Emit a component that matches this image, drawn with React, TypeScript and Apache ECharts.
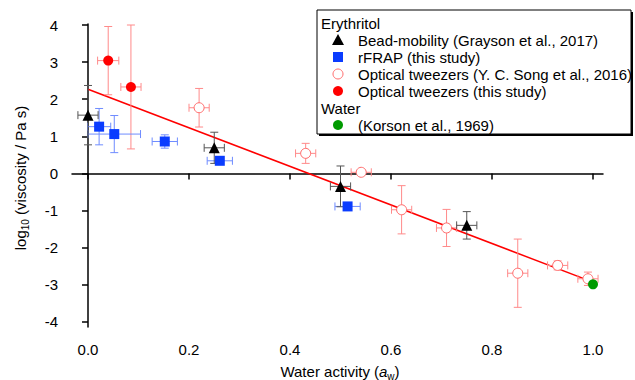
import React, { useEffect, useRef } from "react";
import * as echarts from "echarts";

const FONT = '"Liberation Sans", Arial, sans-serif';

// Bead-mobility (Grayson et al., 2017)
const beadX = [0.0, 0.25, 0.5, 0.75];
const beadY = [1.57, 0.69, -0.35, -1.4];
const beadXErr = [0.02, 0.02, 0.02, 0.02];
const beadYErr = [0.8, 0.42, 0.55, 0.37];

// rFRAP (this study)
const frapX = [0.022, 0.052, 0.152, 0.261, 0.514];
const frapY = [1.26, 1.06, 0.86, 0.34, -0.89];
const frapXErr = [0.023, 0.052, 0.025, 0.025, 0.025];
const frapYErr = [0.49, 0.5, 0.18, 0.08, 0.08];

// Optical tweezers (Y. C. Song et al., 2016)
const songX = [0.22, 0.431, 0.541, 0.621, 0.71, 0.851, 0.93, 0.99];
const songY = [1.77, 0.54, 0.03, -0.98, -1.47, -2.69, -2.48, -2.84];
const songXErr = [0.02, 0.02, 0.02, 0.02, 0.02, 0.02, 0.02, 0.02];
const songYErr = [0.52, 0.27, 0.06, 0.65, 0.5, 0.92, 0.12, 0.18];

// Optical tweezers (this study)
const otX = [0.04, 0.085];
const otY = [3.04, 2.33];
const otXErr = [0.021, 0.02];
const otYErr = [0.92, 1.67];

// Water (Korson et al., 1969)
const waterX = [1.0];
const waterY = [-2.99];

// Linear fit
const fitX = [0, 1];
const fitY = [2.27, -2.93];

const xTicks = [0, 0.2, 0.4, 0.6, 0.8, 1.0];
const yTicks = [-4, -3, -2, -1, 0, 1, 2, 3, 4];

const rows = (xs: number[], ys: number[], xe?: number[], ye?: number[]) =>
  xs.map((x, i) => [x, ys[i], xe ? xe[i] : 0, ye ? ye[i] : 0]);

const errSeries = (data: number[][], color: string) => ({
  type: "custom",
  silent: true,
  z: 1,
  data,
  encode: { x: 0, y: 1 },
  renderItem: (params: any, api: any) => {
    const x = api.value(0);
    const y = api.value(1);
    const xe = api.value(2);
    const ye = api.value(3);
    const cap = 4;
    const st = { stroke: color, lineWidth: 1, fill: null };
    const children: any[] = [];
    if (xe > 0) {
      const l = api.coord([x - xe, y]);
      const r = api.coord([x + xe, y]);
      children.push({ type: "line", shape: { x1: l[0], y1: l[1], x2: r[0], y2: r[1] }, style: st });
      children.push({ type: "line", shape: { x1: l[0], y1: l[1] - cap, x2: l[0], y2: l[1] + cap }, style: st });
      children.push({ type: "line", shape: { x1: r[0], y1: r[1] - cap, x2: r[0], y2: r[1] + cap }, style: st });
    }
    if (ye > 0) {
      const t = api.coord([x, y + ye]);
      const b = api.coord([x, y - ye]);
      children.push({ type: "line", shape: { x1: t[0], y1: t[1], x2: b[0], y2: b[1] }, style: st });
      children.push({ type: "line", shape: { x1: t[0] - cap, y1: t[1], x2: t[0] + cap, y2: t[1] }, style: st });
      children.push({ type: "line", shape: { x1: b[0] - cap, y1: b[1], x2: b[0] + cap, y2: b[1] }, style: st });
    }
    return { type: "group", children };
  },
});

const BLUE = "#0a3cff";
const RED = "#ff0000";
const PALE_RED = "#ff8a8a";
const GREEN = "#009a00";

export default function App() {
  const ref = useRef<HTMLDivElement>(null);
  useEffect(() => {
    if (!ref.current) return;
    const chart = echarts.init(ref.current, null, { renderer: "svg" });
    const LX = 317, LY = 10, LW = 314, LH = 124;
    const rowY = [23, 40, 57, 74, 91, 108, 125];
    const mx = 338, tx = 358;
    const legendText = (text: string, x: number, y: number) => ({
      type: "text",
      x,
      y,
      z: 101,
      style: { text, fontSize: 15, fontFamily: FONT, fill: "#000", verticalAlign: "middle", align: "left" },
    });
    chart.setOption({
      animation: false,
      backgroundColor: "#fff",
      grid: { left: 72, right: 32, top: 24, bottom: 53, containLabel: false },
      xAxis: {
        type: "value",
        min: -0.0317,
        max: 1.0198,
        axisLine: { show: true, lineStyle: { color: "#000", width: 1.5 } },
        axisTick: { show: true, inside: false, length: 6, lineStyle: { color: "#000", width: 1.5 }, customValues: xTicks },
        axisLabel: {
          customValues: xTicks,
          margin: 15,
          fontSize: 15,
          fontFamily: FONT,
          color: "#000",
          formatter: (v: number) => v.toFixed(1),
        },
        splitLine: { show: false },
      },
      yAxis: {
        type: "value",
        min: -4.14,
        max: 4.027,
        axisLine: { show: true, lineStyle: { color: "#000", width: 1.5 } },
        axisTick: { show: true, inside: false, length: 6, lineStyle: { color: "#000", width: 1.5 }, customValues: yTicks },
        axisLabel: {
          customValues: yTicks,
          margin: 14,
          fontSize: 15,
          fontFamily: FONT,
          color: "#000",
          formatter: (v: number) => String(Math.round(v)),
        },
        splitLine: { show: false },
      },
      series: [
        {
          type: "line",
          data: fitX.map((x, i) => [x, fitY[i]]),
          showSymbol: false,
          silent: true,
          z: 0,
          lineStyle: { color: RED, width: 1.5 },
        },
        errSeries(rows(otX, otY, otXErr, otYErr), PALE_RED),
        errSeries(rows(songX, songY, songXErr, songYErr), PALE_RED),
        errSeries(rows(frapX, frapY, frapXErr, frapYErr), "#6f8cff"),
        errSeries(rows(beadX, beadY, beadXErr, beadYErr), "#555555"),
        {
          type: "scatter",
          name: "Optical tweezers (Y. C. Song et al., 2016)",
          data: songX.map((x, i) => [x, songY[i]]),
          symbol: "circle",
          symbolSize: 10,
          z: 3,
          itemStyle: { color: "#fff", borderColor: "#ff6a6a", borderWidth: 1, opacity: 1 },
        },
        {
          type: "scatter",
          name: "Optical tweezers (this study)",
          data: otX.map((x, i) => [x, otY[i]]),
          symbol: "circle",
          symbolSize: 10,
          z: 3,
          itemStyle: { color: RED, opacity: 1 },
        },
        {
          type: "scatter",
          name: "rFRAP (this study)",
          data: frapX.map((x, i) => [x, frapY[i]]),
          symbol: "rect",
          symbolSize: 10,
          z: 3,
          itemStyle: { color: BLUE, opacity: 1 },
        },
        {
          type: "scatter",
          name: "Bead-mobility (Grayson et al., 2017)",
          data: beadX.map((x, i) => [x, beadY[i]]),
          symbol: "triangle",
          symbolSize: 11,
          z: 4,
          itemStyle: { color: "#000", opacity: 1 },
        },
        {
          type: "scatter",
          name: "(Korson et al., 1969)",
          data: waterX.map((x, i) => [x, waterY[i]]),
          symbol: "circle",
          symbolSize: 10,
          z: 4,
          itemStyle: { color: GREEN, opacity: 1 },
        },
      ],
      graphic: [
        {
          type: "text",
          x: 20,
          y: 178,
          rotation: Math.PI / 2,
          style: {
            text: "{n|log}{s|10}{n| (viscosity / Pa s)}",
            align: "center",
            verticalAlign: "middle",
            fill: "#000",
            rich: {
              n: { fontSize: 15, fontFamily: FONT, lineHeight: 20, fill: "#000" },
              s: { fontSize: 10, fontFamily: FONT, lineHeight: 20, verticalAlign: "bottom", fill: "#000" },
            },
          },
        },
        {
          type: "text",
          x: 340,
          y: 371,
          style: {
            text: "{n|Water activity (}{i|a}{s|w}{n|)}",
            align: "center",
            verticalAlign: "middle",
            fill: "#000",
            rich: {
              n: { fontSize: 15, fontFamily: FONT, lineHeight: 20, fill: "#000" },
              i: { fontSize: 15, fontFamily: FONT, fontStyle: "italic", lineHeight: 20, fill: "#000" },
              s: { fontSize: 10, fontFamily: FONT, lineHeight: 20, verticalAlign: "bottom", fill: "#000" },
            },
          },
        },
        { type: "rect", z: 99, shape: { x: LX + 2, y: LY + 2, width: LW, height: LH }, style: { fill: "#000" } },
        { type: "rect", z: 100, shape: { x: LX, y: LY, width: LW, height: LH }, style: { fill: "#fff", stroke: "#000", lineWidth: 1 } },
        legendText("Erythritol", 321, rowY[0]),
        { type: "polygon", z: 101, shape: { points: [[mx, rowY[1] - 6], [mx + 6, rowY[1] + 5], [mx - 6, rowY[1] + 5]] }, style: { fill: "#000" } },
        legendText("Bead-mobility (Grayson et al., 2017)", tx, rowY[1]),
        { type: "rect", z: 101, shape: { x: mx - 5, y: rowY[2] - 5, width: 10, height: 10 }, style: { fill: BLUE } },
        legendText("rFRAP (this study)", tx, rowY[2]),
        { type: "circle", z: 101, shape: { cx: mx, cy: rowY[3], r: 5 }, style: { fill: "#fff", stroke: "#ff6a6a", lineWidth: 1 } },
        legendText("Optical tweezers (Y. C. Song et al., 2016)", tx, rowY[3]),
        { type: "circle", z: 101, shape: { cx: mx, cy: rowY[4], r: 5 }, style: { fill: RED } },
        legendText("Optical tweezers (this study)", tx, rowY[4]),
        legendText("Water", 321, rowY[5]),
        { type: "circle", z: 101, shape: { cx: mx, cy: rowY[6], r: 5 }, style: { fill: GREEN } },
        legendText("(Korson et al., 1969)", tx, rowY[6]),
      ],
    });
    return () => chart.dispose();
  }, []);
  return (
    <div
      ref={ref}
      style={{ position: "absolute", left: 0, top: 0, width: 635, height: 380, background: "#fff" }}
    />
  );
}
